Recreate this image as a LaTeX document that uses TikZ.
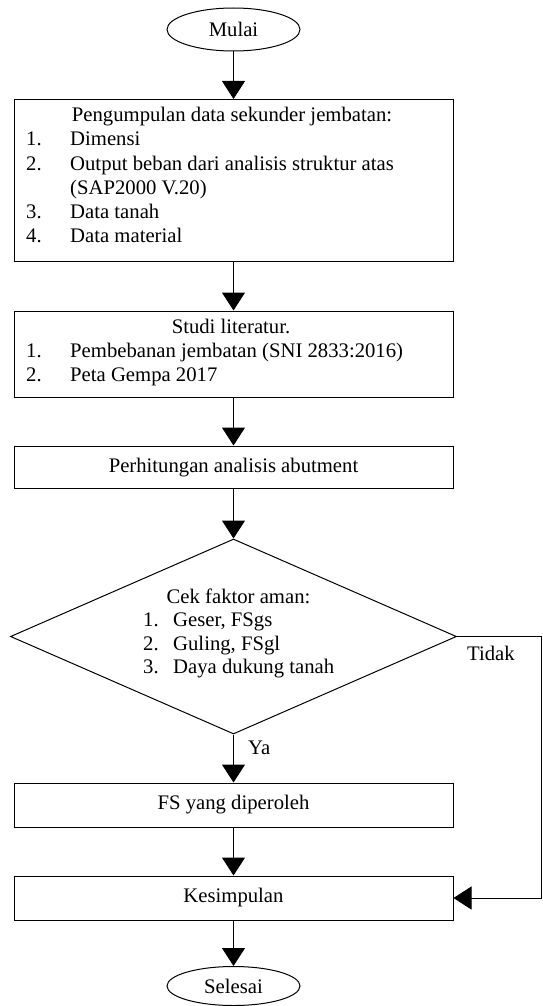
\documentclass[tikz,border=0pt]{standalone}
\usepackage{fontspec}
\setmainfont{Liberation Serif}
\usetikzlibrary{shapes.geometric,arrows.meta}
\begin{document}
\begin{tikzpicture}[x=1pt,y=-1pt,
  font=\fontsize{20.7}{24}\selectfont,
  box/.style={draw, line width=1pt, rectangle, minimum width=439pt, inner sep=0pt},
  term/.style={draw, line width=1pt, ellipse, minimum width=133pt, inner sep=0pt},
  arr/.style={line width=1pt, -{Triangle[width=23pt,length=18pt]}},
  txt/.style={anchor=base west, inner sep=0pt},
  ctxt/.style={anchor=base, inner sep=0pt}]
\useasboundingbox (0,0) rectangle (542,1006);

% terminals and boxes
\node[term, minimum height=43pt] (start) at (233.5,29.5) {Mulai};
\node[box, minimum height=161.5pt] (b1) at (233.5,180.25) {};
\node[box, minimum height=86pt] (b2) at (233.5,354) {};
\node[box, minimum height=42.5pt] (b3) at (233.5,467.25) {Perhitungan analisis abutment};
\node[draw, diamond, line width=1pt, minimum width=446pt, minimum height=195pt, inner sep=0pt] (dia) at (233.5,636.5) {};
\node[box, minimum height=44pt] (fs) at (233.5,805) {FS yang diperoleh};
\node[box, minimum height=44pt] (kes) at (233.5,898) {Kesimpulan};
\node[term, minimum height=39pt] (end) at (233.5,986) {Selesai};

% box 1 text
\node[ctxt] (t1) at (232,122) {Pengumpulan data sekunder jembatan:};
\node[txt] (n11) at (26,146) {1.};
\node[txt] (i11) at (70,146) {Dimensi};
\node[txt] (n12) at (26,170) {2.};
\node[txt] (i12) at (70,170) {Output beban dari analisis struktur atas};
\node[txt] (i12b) at (70,194) {(SAP2000 V.20)};
\node[txt] (n13) at (26,218) {3.};
\node[txt] (i13) at (70,218) {Data tanah};
\node[txt] (n14) at (26,242) {4.};
\node[txt] (i14) at (70,242) {Data material};

% box 2 text
\node[ctxt] (t2) at (231,333) {Studi literatur.};
\node[txt] (n21) at (26,357) {1.};
\node[txt] (i21) at (70,357) {Pembebanan jembatan (SNI 2833:2016)};
\node[txt] (n22) at (26,381) {2.};
\node[txt] (i22) at (70,381) {Peta Gempa 2017};

% diamond text
\node[ctxt] (d0) at (238.5,603) {Cek faktor aman:};
\node[txt] (dn1) at (143,626.5) {1.};
\node[txt] (di1) at (173,626.5) {Geser, FSgs};
\node[txt] (dn2) at (143,650) {2.};
\node[txt] (di2) at (173,650) {Guling, FSgl};
\node[txt] (dn3) at (143,673.5) {3.};
\node[txt] (di3) at (173,673.5) {Daya dukung tanah};

% labels
\node[txt] (ya) at (248,754) {Ya};
\node[txt] (tidak) at (467,660) {Tidak};

% connectors
\draw[arr] (start) -- (b1);
\draw[arr] (b1) -- (b2);
\draw[arr] (b2) -- (b3);
\draw[arr] (b3) -- (dia);
\draw[arr] (dia) -- (fs);
\draw[arr] (fs) -- (kes);
\draw[arr] (kes) -- (end);
\coordinate (r1) at (541,636.5);
\coordinate (r2) at (541,898);
\draw[arr] (dia.east) -- (r1) -- (r2) -- (kes.east);
\end{tikzpicture}
\end{document}
